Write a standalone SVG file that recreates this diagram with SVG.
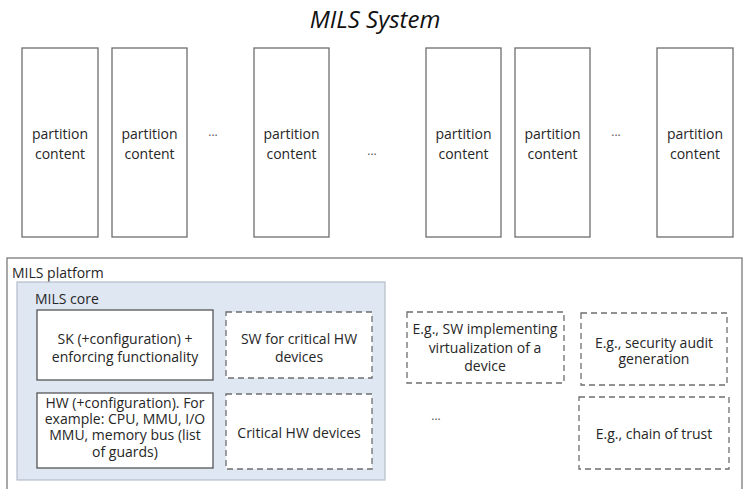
<svg xmlns="http://www.w3.org/2000/svg" width="747" height="489" viewBox="0 0 747 489">
<style>
text{font-family:"Open Sans","Liberation Sans",sans-serif;font-size:14px;fill:#262626;text-anchor:middle;dominant-baseline:central}
.title{font-size:24px;font-style:italic;fill:#111}
.lbl{text-anchor:start}
.part{fill:#fff;stroke:#6e6e6e;stroke-width:1.3}
.solid{fill:#fff;stroke:#555;stroke-width:1.3}
.dash{fill:#fff;stroke:#6e6e6e;stroke-width:1.3;stroke-dasharray:6 4}
.dots{font-size:12px;fill:#555}
</style>
<rect width="747" height="489" fill="#fff"/>
<text class="title" x="375" y="18">MILS System</text>
<g id="partitions">
<g id="p1"><rect class="part" x="22" y="48" width="76" height="189"/><text x="60" y="133">partition</text><text x="60" y="153">content</text></g>
<g id="p2"><rect class="part" x="112" y="48" width="75" height="189"/><text x="149.5" y="133">partition</text><text x="149.5" y="153">content</text></g>
<text class="dots" x="213" y="131">...</text>
<g id="p3"><rect class="part" x="254" y="48" width="75" height="189"/><text x="291.5" y="133">partition</text><text x="291.5" y="153">content</text></g>
<text class="dots" x="372" y="150">...</text>
<g id="p4"><rect class="part" x="426" y="48" width="75" height="189"/><text x="463.5" y="133">partition</text><text x="463.5" y="153">content</text></g>
<g id="p5"><rect class="part" x="515" y="48" width="75" height="189"/><text x="552.5" y="133">partition</text><text x="552.5" y="153">content</text></g>
<text class="dots" x="616" y="131">...</text>
<g id="p6"><rect class="part" x="657" y="48" width="76" height="189"/><text x="695" y="133">partition</text><text x="695" y="153">content</text></g>
</g>
<g id="platform">
<rect x="7" y="258" width="735" height="240" fill="#fff" stroke="#7a7a7a" stroke-width="1.3"/>
<text class="lbl" x="12" y="272">MILS platform</text>
</g>
<g id="core">
<rect x="17" y="282" width="368" height="198" fill="#dfe7f3" stroke="#b4bccb" stroke-width="1.2"/>
<text class="lbl" x="35" y="298">MILS core</text>
</g>
<g id="sk"><rect class="solid" x="37" y="310" width="176" height="70"/><text x="125" y="338">SK (+configuration) +</text><text x="125" y="356">enforcing functionality</text></g>
<g id="swcrit"><rect class="dash" x="226" y="312" width="146" height="66"/><text x="299" y="338">SW for critical HW</text><text x="299" y="356">devices</text></g>
<g id="hw"><rect class="solid" x="37" y="393" width="176" height="75"/><text x="125" y="402">HW (+configuration). For</text><text x="125" y="418">example: CPU, MMU, I/O</text><text x="125" y="434">MMU, memory bus (list</text><text x="125" y="451">of guards)</text></g>
<g id="crithw"><rect class="dash" x="226" y="394" width="146" height="75"/><text x="299" y="432">Critical HW devices</text></g>
<g id="virt"><rect class="dash" x="407" y="312" width="157" height="71"/><text x="485" y="328">E.g., SW implementing</text><text x="485" y="347">virtualization of a</text><text x="485" y="365">device</text></g>
<g id="audit"><rect class="dash" x="581" y="313" width="146" height="72"/><text x="654" y="342">E.g., security audit</text><text x="654" y="358">generation</text></g>
<text class="dots" x="436" y="415">...</text>
<g id="trust"><rect class="dash" x="579" y="397" width="150" height="72"/><text x="654" y="433">E.g., chain of trust</text></g>
<g id="connectors"/>
</svg>
